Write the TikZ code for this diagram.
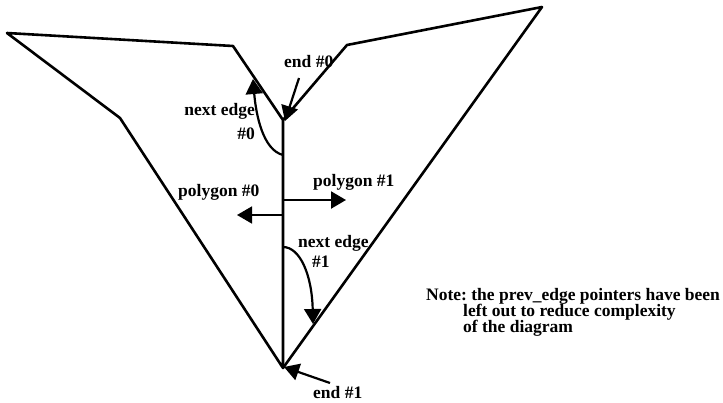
\documentclass[tikz,border=0pt]{standalone}
\usepackage{fontspec}
\setmainfont{Liberation Serif}
\usetikzlibrary{arrows.meta}
\begin{document}
\frenchspacing
\begin{tikzpicture}[x=1pt,y=-1pt,
  edge/.style={line width=2.6pt,line join=round,line cap=round},
  ptr/.style={line width=2.2pt,-{Triangle[length=15pt,width=17pt]}},
  lbl/.style={inner sep=0pt,font=\fontsize{17.5}{19}\selectfont\bfseries}]
\useasboundingbox (0,0) rectangle (723,402);
% vertices
\coordinate (tl) at (7,33);
\coordinate (tm) at (233,46);
\coordinate (top) at (283,120);
\coordinate (bot) at (283,368);
\coordinate (lb) at (120,118);
\coordinate (rm) at (347,45);
\coordinate (tr) at (542,7);
% polygons
\draw[edge] (tl) -- (tm) -- (top) -- (bot) -- (lb) -- cycle;
\draw[edge] (top) -- (rm) -- (tr) -- (bot);
% labels
\node[lbl,anchor=base west] (e0) at (284,67) {end \#0};
\node[lbl,anchor=base east] (ne0) at (255,115) {next edge};
\node[lbl,anchor=base east] (ne0b) at (255,139) {\#0};
\node[lbl,anchor=base west] (p0) at (178,196) {polygon \#0};
\node[lbl,anchor=base west] (p1) at (313,186) {polygon \#1};
\node[lbl,anchor=base west] (ne1) at (298,247) {next edge};
\node[lbl,anchor=base west] (ne1b) at (312,267) {\#1};
\node[lbl,anchor=base west] (e1) at (313,398) {end \#1};
\node[lbl,anchor=base west] (note1) at (426,300) {Note: the prev\_edge pointers have been};
\node[lbl,anchor=base west] (note2) at (463,316) {left out to reduce complexity};
\node[lbl,anchor=base west] (note3) at (463,332) {of the diagram};
% pointer coordinates
\coordinate (e0s) at (299,78);
\coordinate (e0t) at (285,121);
\coordinate (n0s) at (283,155);
\coordinate (n0t) at (253,79);
\coordinate (p0s) at (283,215);
\coordinate (p0t) at (237,215);
\coordinate (p1s) at (283,200);
\coordinate (p1t) at (346,200);
\coordinate (n1s) at (283,247);
\coordinate (n1t) at (313,324);
\coordinate (e1s) at (330,383);
\coordinate (e1t) at (284,367);
% pointers
\draw[ptr] (e0s) -- (e0t);
\draw[ptr] (n0s) .. controls (263,150) and (256,115) .. (n0t);
\draw[ptr,line width=1.6pt] (p0s) -- (p0t);
\draw[ptr] (p1s) -- (p1t);
\draw[ptr] (n1s) .. controls (300,247) and (312,275) .. (n1t);
\draw[ptr] (e1s) -- (e1t);
\end{tikzpicture}
\end{document}
